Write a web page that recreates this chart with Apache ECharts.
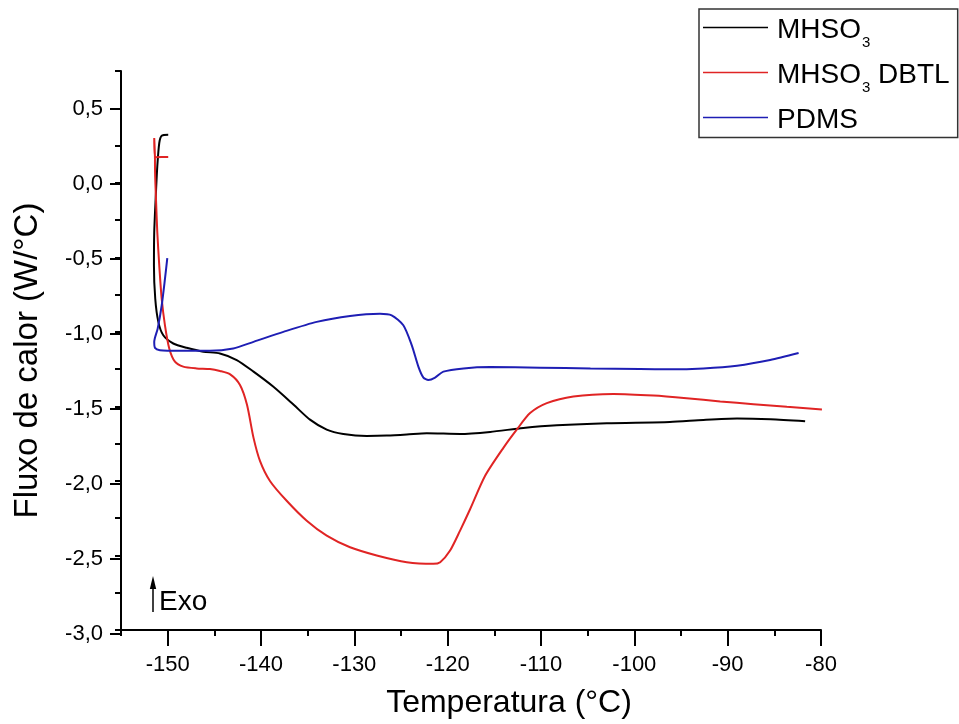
<!DOCTYPE html>
<html><head><meta charset="utf-8">
<script src="https://cdn.jsdelivr.net/npm/echarts@6/dist/echarts.min.js"></script>
<style>html,body{margin:0;padding:0;background:#fff}#c{width:959px;height:724px}</style>
</head><body><div id="c"></div>
<script>
// ---- data ----
const seriesNames = ['MHSO3', 'MHSO3 DBTL', 'PDMS'];
const seriesColors = ['#000000', '#e02424', '#1e1eb4'];

const tempMHSO3 = [-149.94, -150.64, -150.9, -151.11, -151.29, -151.44, -151.47, -151.33, -151.0, -150.47, -149.4, -147.96, -146.18, -144.4, -142.6, -140.8, -138.7, -136.5, -134.75, -132.96, -131.18, -128.67, -126.53, -124.38, -122.24, -118.67, -115.45, -111.9, -108.3, -102.95, -96.2, -92.6, -89.0, -85.4, -81.7];
const fluxMHSO3 = [0.322, 0.315, 0.267, 0.111, -0.111, -0.333, -0.556, -0.778, -0.933, -1.023, -1.078, -1.107, -1.133, -1.145, -1.189, -1.267, -1.367, -1.489, -1.589, -1.656, -1.685, -1.698, -1.696, -1.689, -1.68, -1.685, -1.671, -1.645, -1.627, -1.613, -1.605, -1.591, -1.582, -1.587, -1.6];

const tempDBTL = [-149.94, -151.36, -151.44, -151.36, -151.36, -151.25, -151.11, -150.9, -150.64, -150.29, -149.83, -149.22, -148.33, -146.9, -145.47, -144.4, -143.3, -142.25, -141.5, -140.8, -140.1, -139.04, -137.25, -135.1, -132.96, -130.46, -127.6, -124.38, -121.53, -120.8, -119.74, -118.67, -117.6, -116.0, -114.03, -112.6, -111.17, -109.38, -106.53, -102.24, -97.95, -94.4, -90.8, -87.24, -83.66, -79.9];
const fluxDBTL = [0.173, 0.172, 0.3, 0.155, 0.111, -0.111, -0.333, -0.556, -0.778, -0.956, -1.111, -1.2, -1.233, -1.245, -1.249, -1.262, -1.285, -1.356, -1.489, -1.711, -1.867, -2.0, -2.133, -2.267, -2.367, -2.445, -2.5, -2.545, -2.556, -2.545, -2.467, -2.333, -2.19, -1.967, -1.778, -1.656, -1.545, -1.478, -1.433, -1.416, -1.427, -1.445, -1.467, -1.485, -1.503, -1.52];

const tempPDMS = [-150.04, -150.29, -150.64, -151.07, -151.44, -151.36, -150.83, -148.68, -145.47, -142.97, -140.8, -137.6, -134.03, -130.46, -127.25, -126.0, -124.75, -123.85, -123.14, -122.6, -122.07, -121.35, -120.46, -118.3, -115.45, -110.1, -104.7, -99.4, -96.2, -92.6, -89.0, -85.45, -82.4];
const fluxPDMS = [-0.505, -0.645, -0.823, -0.978, -1.067, -1.107, -1.123, -1.127, -1.127, -1.111, -1.067, -1.0, -0.933, -0.893, -0.878, -0.889, -0.956, -1.089, -1.233, -1.307, -1.323, -1.307, -1.267, -1.245, -1.236, -1.24, -1.245, -1.249, -1.251, -1.245, -1.227, -1.189, -1.142];

const xMin = -155, xMax = -80, xMajorStart = -150, xMajor = 10, xMinor = 5;
const yMin = -3, yMax = 0.75, yMajorMax = 0.5, yMajor = 0.5, yMinor = 0.25;

// ---- chart ----
const FONT = '"Liberation Sans", Arial, sans-serif';
const zip = (a, b) => a.map((v, i) => [v, b[i]]);
const chart = echarts.init(document.getElementById('c'), null, {renderer: 'canvas'});

const G = {left: 121, top: 71, right: 821, bottom: 634};
const pxX = (G.right - G.left) / (xMax - xMin);
const pxY = (G.bottom - G.top) / (yMax - yMin);
const g2left = G.left + (xMajorStart - xMin) * pxX;
const g2top = G.top + (yMax - yMajorMax) * pxY;

const tickStyle = {color: '#000', width: 2};
const lblStyle = {color: '#000', fontFamily: FONT, fontSize: 22};

const data = [zip(tempMHSO3, fluxMHSO3), zip(tempDBTL, fluxDBTL), zip(tempPDMS, fluxPDMS)];

chart.setOption({
  animation: false,
  backgroundColor: '#fff',
  grid: [
    {left: G.left, top: G.top, width: G.right - G.left, height: G.bottom - G.top},
    {left: g2left, top: g2top, width: G.right - g2left, height: G.bottom - g2top}
  ],
  xAxis: [
    {gridIndex: 0, type: 'value', min: xMin, max: xMax, interval: xMinor,
     axisLine: {show: true, onZero: false, lineStyle: tickStyle}, axisTick: {show: true, length: 6, lineStyle: tickStyle},
     axisLabel: {show: false}, splitLine: {show: false},
     name: 'Temperatura (°C)', nameLocation: 'middle', nameGap: 57,
     nameTextStyle: {color: '#000', fontFamily: FONT, fontSize: 32, padding: [0, 0, 0, 76]}},
    {gridIndex: 1, type: 'value', min: xMajorStart, max: xMax, interval: xMajor,
     axisLine: {show: false, onZero: false}, axisTick: {show: true, length: 12, lineStyle: tickStyle},
     axisLabel: Object.assign({margin: 20}, lblStyle), splitLine: {show: false}}
  ],
  yAxis: [
    {gridIndex: 0, type: 'value', min: yMin, max: yMax, interval: yMinor,
     axisLine: {show: true, onZero: false, lineStyle: tickStyle}, axisTick: {show: true, length: 6, lineStyle: tickStyle},
     axisLabel: {show: false}, splitLine: {show: false},
     name: 'Fluxo de calor (W/°C)', nameLocation: 'middle', nameGap: 77,
     nameTextStyle: {color: '#000', fontFamily: FONT, fontSize: 33, padding: [0, 20, 0, 0]}},
    {gridIndex: 1, type: 'value', min: yMin, max: yMajorMax, interval: yMajor, offset: g2left - G.left,
     axisLine: {show: false, onZero: false}, axisTick: {show: true, length: 11, lineStyle: tickStyle},
     axisLabel: Object.assign({margin: 18, formatter: v => v.toFixed(1).replace('.', ',')}, lblStyle),
     splitLine: {show: false}}
  ],
  legend: {
    orient: 'vertical', left: 699, top: 9, padding: [4.5, 8, 0, 4], itemGap: 8,
    itemWidth: 65, itemHeight: 1.5, icon: 'rect', borderColor: '#333', borderWidth: 1.5,
    data: seriesNames,
    formatter: n => n === 'MHSO3' ? '{b|MHSO}{s|3}' : (n === 'MHSO3 DBTL' ? '{b|MHSO}{s|3}{a| DBTL}' : '{c|PDMS}'),
    textStyle: {
      color: '#000',
      rich: {
        a: {fontFamily: FONT, fontSize: 28, color: '#000', lineHeight: 28, verticalAlign: 'top', padding: [3, 0, 0, 0]},
        b: {fontFamily: FONT, fontSize: 28, color: '#000', lineHeight: 28, verticalAlign: 'top', padding: [3, 0, 0, 4]},
        c: {fontFamily: FONT, fontSize: 28, color: '#000', lineHeight: 28, verticalAlign: 'top', padding: [3, 0, 3, 4]},
        s: {fontFamily: FONT, fontSize: 15, color: '#000', lineHeight: 12, verticalAlign: 'top', padding: [22, 0, 0, 1]}
      }
    }
  },
  series: seriesNames.map((n, i) => ({
    name: n, type: 'line', xAxisIndex: 0, yAxisIndex: 0, data: data[i],
    symbol: 'none', showSymbol: false, smooth: 0.25,
    lineStyle: {color: seriesColors[i], width: 2}, itemStyle: {color: seriesColors[i]}
  })),
  graphic: [
    {type: 'line', shape: {x1: 153, y1: 612, x2: 153, y2: 586}, style: {stroke: '#000', lineWidth: 1.5}},
    {type: 'polygon', shape: {points: [[153, 576], [149.8, 589], [156.2, 589]]}, style: {fill: '#000'}},
    {type: 'text', x: 159, y: 602, style: {text: 'Exo', fontFamily: FONT, fontSize: 28, fill: '#000', verticalAlign: 'middle'}}
  ]
});
</script>
</body></html>
